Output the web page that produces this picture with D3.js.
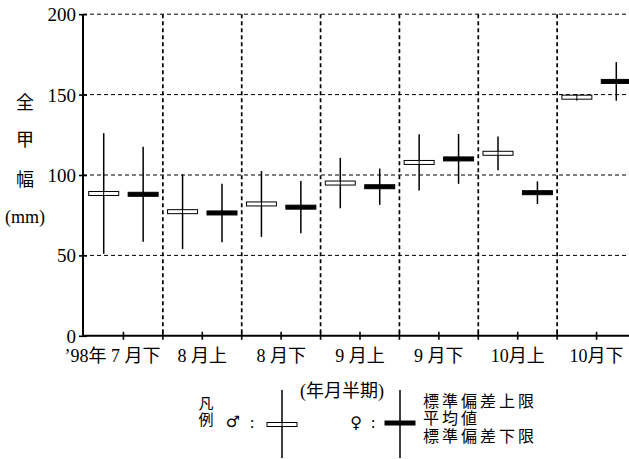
<!DOCTYPE html>
<html>
<head>
<meta charset="utf-8">
<script src="https://cdn.jsdelivr.net/npm/d3@7/dist/d3.min.js"></script>
<style>
  html, body { margin: 0; padding: 0; background: #fff; }
  svg { display: block; }
  text { font-family: "Liberation Serif", "Noto Sans CJK JP", serif; fill: #000; }
</style>
</head>
<body>
<svg id="chart" width="629" height="459"></svg>
<script>
// Half-month periods (1998)
const periods = ["7 月下", "8 月上", "8 月下", "9 月上", "9 月下", "10月上", "10月下"];
const yearPrefix = "’98年 ";

// Carapace width (mm): mean and standard deviation
const maleMean   = [88.5, 77.2, 82.0, 95.0, 107.8, 113.5, 148.4];
const maleSD     = [37.5, 23.2, 20.5, 15.7, 17.5, 10.5, 2.0];
const femaleMean = [88.0, 76.4, 80.0, 92.7, 110.0, 89.0, 158.2];
const femaleSD   = [29.5, 18.2, 16.2, 11.3, 15.5, 7.0, 12.0];

const yTicks = [0, 50, 100, 150, 200];
const sexes = ["male", "female"];
const yTitle = ["全", "甲", "幅", "(mm)"];
const legendLabels = ["標準偏差上限", "平均値", "標準偏差下限"];

const rows = [];
periods.forEach((p, i) => {
  rows.push({ period: p, sex: "male", mean: maleMean[i], sd: maleSD[i] });
  rows.push({ period: p, sex: "female", mean: femaleMean[i], sd: femaleSD[i] });
});

const svg = d3.select("#chart");

const x = d3.scaleBand().domain(periods).range([84, 636]).padding(0);
const xs = d3.scaleBand().domain(sexes).range([0, x.bandwidth()]).padding(0);
const y = d3.scaleLinear().domain([0, 200]).range([335.8, 14.2]);

const boxW = 30, boxH = 4;
const x0 = 83, xEnd = 640;

// Horizontal dashed grid
svg.append("g")
  .selectAll("line")
  .data(yTicks.filter(d => d > 0))
  .join("line")
  .attr("x1", x0).attr("x2", xEnd)
  .attr("y1", d => y(d)).attr("y2", d => y(d))
  .attr("stroke", "#000").attr("stroke-width", 1)
  .attr("stroke-dasharray", "4,3");

// Vertical dashed separators between periods
const bounds = periods.slice(1).map(p => x(p));
svg.append("g")
  .selectAll("line")
  .data(bounds)
  .join("line")
  .attr("x1", d => d).attr("x2", d => d)
  .attr("y1", y(200)).attr("y2", y(0))
  .attr("stroke", "#000").attr("stroke-width", 1.7)
  .attr("stroke-dasharray", "4,3");

// Y axis
const yAxis = svg.append("g")
  .attr("transform", `translate(${x0},0)`)
  .call(d3.axisLeft(y).tickValues(yTicks).tickSize(4).tickPadding(3));
yAxis.select(".domain").attr("stroke-width", 2).attr("d", `M0,${y(200)}V${y(0)}`);
yAxis.selectAll(".tick line").attr("x1", 4).attr("x2", -4).attr("stroke-width", 1.6);
yAxis.selectAll(".tick text")
  .style("font-size", "19px")
  .attr("dy", "0.34em");

// X axis
const xAxis = svg.append("g")
  .attr("transform", `translate(0,${y(0)})`)
  .call(d3.axisBottom(x).tickSize(0).tickPadding(13)
    .tickFormat((d, i) => i === 0 ? yearPrefix + d : d));
xAxis.select(".domain").attr("stroke-width", 2).attr("d", `M${x0},0H${xEnd}`);
xAxis.selectAll(".tick text")
  .style("font-size", "18px");
xAxis.selectAll(".tick text").filter((d, i) => i === 0)
  .attr("text-anchor", "end")
  .attr("x", 37);

// Tick marks at period centres and boundaries
const tickXs = periods.map(p => x(p) + x.bandwidth() / 2).concat(bounds);
svg.append("g")
  .selectAll("line")
  .data(tickXs)
  .join("line")
  .attr("x1", d => d).attr("x2", d => d)
  .attr("y1", y(0) - 4).attr("y2", y(0) + 4)
  .attr("stroke", "#000").attr("stroke-width", 1.6);

// Mean ± SD marks
function drawMark(g, cx, top, mid, bottom, sex) {
  g.append("line")
    .attr("x1", cx).attr("x2", cx)
    .attr("y1", top).attr("y2", bottom)
    .attr("stroke", "#000").attr("stroke-width", 1.5);
  g.append("rect")
    .attr("x", cx - boxW / 2).attr("y", mid - boxH / 2)
    .attr("width", boxW).attr("height", boxH)
    .attr("fill", sex === "male" ? "#fff" : "#000")
    .attr("stroke", "#000").attr("stroke-width", 1);
  if (sex === "male") {
    g.append("line")
      .attr("x1", cx).attr("x2", cx)
      .attr("y1", mid - boxH / 2).attr("y2", mid + boxH / 2)
      .attr("stroke", "#000").attr("stroke-width", 1);
  }
}

const marks = svg.append("g");
rows.forEach(r => {
  const cx = x(r.period) + xs(r.sex) + xs.bandwidth() / 2;
  drawMark(marks, cx, y(r.mean + r.sd), y(r.mean), y(r.mean - r.sd), r.sex);
});

// Y axis title, stacked vertically
svg.append("g")
  .selectAll("text")
  .data(yTitle)
  .join("text")
  .attr("x", 25)
  .attr("y", (d, i) => [103, 140, 180, 217][i])
  .attr("text-anchor", "middle")
  .attr("dominant-baseline", "central")
  .style("font-size", "18px")
  .text(d => d);

// X axis title
svg.append("text")
  .attr("x", 342).attr("y", 391)
  .attr("text-anchor", "middle")
  .attr("dominant-baseline", "central")
  .style("font-size", "18px")
  .text("(年月半期)");

// Legend
const leg = svg.append("g");
leg.append("text").attr("x", 206).attr("y", 404)
  .attr("text-anchor", "middle").attr("dominant-baseline", "central")
  .style("font-size", "15px").text("凡");
leg.append("text").attr("x", 206).attr("y", 420)
  .attr("text-anchor", "middle").attr("dominant-baseline", "central")
  .style("font-size", "15px").text("例");
leg.append("text").attr("x", 233).attr("y", 421)
  .attr("text-anchor", "middle").attr("dominant-baseline", "central")
  .style("font-size", "16px").style("font-family", "DejaVu Sans").text("♂");
leg.append("text").attr("x", 252).attr("y", 422)
  .attr("text-anchor", "middle").attr("dominant-baseline", "central")
  .style("font-size", "17px").text(":");
leg.append("text").attr("x", 356).attr("y", 422)
  .attr("text-anchor", "middle").attr("dominant-baseline", "central")
  .style("font-size", "16px").style("font-family", "DejaVu Sans").text("♀");
leg.append("text").attr("x", 373).attr("y", 422)
  .attr("text-anchor", "middle").attr("dominant-baseline", "central")
  .style("font-size", "17px").text(":");

drawMark(leg, 282, 390, 424.5, 458, "male");
drawMark(leg, 400, 390, 423, 458, "female");

leg.append("g")
  .selectAll("text")
  .data(legendLabels)
  .join("text")
  .attr("x", 423)
  .attr("y", (d, i) => 401 + i * 17.5)
  .attr("dominant-baseline", "central")
  .style("font-size", "16px")
  .style("letter-spacing", "3px")
  .text(d => d);
</script>
</body>
</html>
